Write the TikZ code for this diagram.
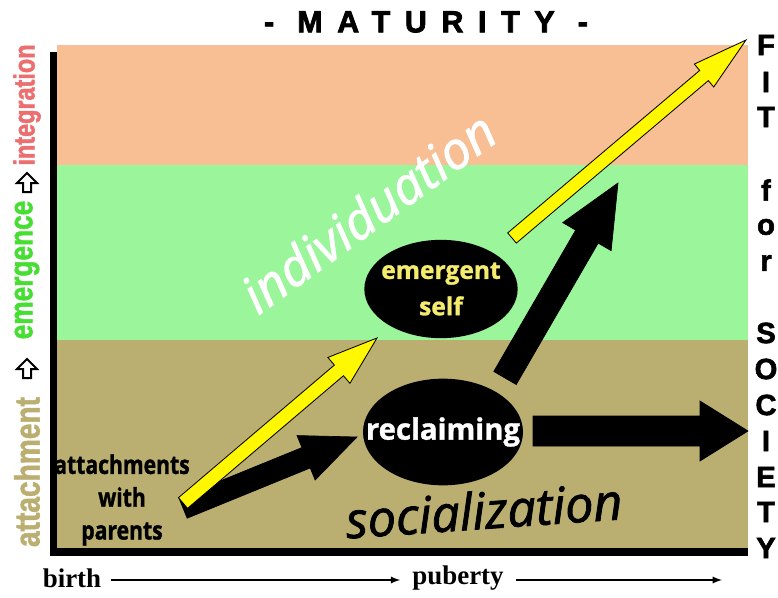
\documentclass[tikz,border=0pt]{standalone}
\usepackage{fontspec}
\setmainfont{Liberation Serif}
\newfontfamily\blobfont[FakeBold=1.2]{Open Sans}
\newfontfamily\wordfont[FakeBold=1.6]{Open Sans}
\newfontfamily\narrowfont[FakeStretch=0.82, FakeBold=1.2]{Open Sans}
\newfontfamily\sidefont[FakeStretch=0.8, FakeBold=1.5]{Liberation Sans}
\newfontfamily\heavyfont[FakeBold=2]{Liberation Sans}
\newfontfamily\spacedfont[LetterSpace=48, FakeBold=2.5]{Liberation Sans}
\usetikzlibrary{shapes.geometric, arrows, calc}
\definecolor{peach}{RGB}{248, 190, 148}
\definecolor{mint}{RGB}{155, 245, 155}
\definecolor{khaki}{RGB}{186, 174, 112}
\definecolor{brightgreen}{RGB}{70, 222, 50}
\definecolor{salmon}{RGB}{236, 110, 110}
\definecolor{arrowyellow}{RGB}{255, 248, 0}
\definecolor{selfyellow}{RGB}{245, 236, 110}

% fat arrow: style, from, to, shaft half width, head half width, head length
\newcommand{\fatarrow}[6]{%
  \coordinate (fa-h) at ($(#3)!#6!(#2)$);
  \filldraw[#1] ($(#2)!#4!90:(#3)$) -- ($(fa-h)!#4!-90:(#2)$)
    -- ($(fa-h)!#5!-90:(#2)$) -- (#3) -- ($(fa-h)!#5!90:(#2)$)
    -- ($(fa-h)!#4!90:(#2)$) -- ($(#2)!#4!-90:(#3)$) -- cycle;
}

\tikzset{
  blob/.style={ellipse, fill=black, inner ysep=0pt, align=center},
  sidelabel/.style={rotate=90, font=\sidefont\bfseries},
  letter/.style={font=\heavyfont\bfseries\fontsize{25}{25}\selectfont},
  yellowarrow/.style={fill=arrowyellow, draw=black, line width=0.25mm},
  blackarrow/.style={fill=black, draw=black, line width=0.2mm},
}

\begin{document}
\begin{tikzpicture}[x=0.3mm, y=-0.3mm]
  \useasboundingbox (0,0) rectangle (778,598);

  % bands
  \fill[black] (50,52) rectangle (748,556);
  \fill[peach] (57,45) rectangle (748,165);
  \fill[mint] (57,165) rectangle (748,340);
  \fill[khaki] (57,340) rectangle (748,548);

  \node (title) at (426,22) {\spacedfont\bfseries\fontsize{26}{26}\selectfont - MATURITY -};

  % left side
  \node[sidelabel, text=khaki, font=\sidefont\bfseries\fontsize{30}{30}\selectfont] (attach) at (27,472) {attachment};
  \node[sidelabel, text=brightgreen, font=\sidefont\bfseries\fontsize{28}{28}\selectfont] (emerge) at (27,270) {emergence};
  \node[sidelabel, text=salmon, font=\sidefont\bfseries\fontsize{25}{25}\selectfont] (integ) at (27,105) {integration};
  \foreach \y in {368,182}
    \draw[fill=white, line width=0.6mm, shift={(27,\y)}] (-4,10) -- (-4,1) -- (-10,1) -- (0,-9) -- (10,1) -- (4,1) -- (4,10) -- cycle;

  % right side
  \foreach \l/\y in {F/45,I/82,T/117,f/190,o/227,r/263,S/333,O/369,C/405,I/441,E/477,T/512,Y/548}
    \node[letter] (fit-\y) at (766,\y) {\l};

  % big words
  \node[text=white, rotate=36, font=\wordfont\itshape\fontsize{44}{44}\selectfont] (indiv) at (368,212) {individuation};
  \node[rotate=4, font=\wordfont\itshape\fontsize{43}{43}\selectfont] (social) at (484,510) {socialization};

  % ellipses
  \node[blob, inner xsep=-1.7mm, minimum width=46mm, minimum height=29.5mm, text=selfyellow,
        font=\blobfont\bfseries\fontsize{21}{31}\selectfont] (self) at (441,289) {emergent\\self};
  \node[blob, inner xsep=-6.3mm, minimum width=48mm, minimum height=32mm, text=white,
        font=\blobfont\bfseries\fontsize{25}{25}\selectfont] (recl) at (443,432) {reclaiming};

  \node[align=center, font=\narrowfont\bfseries\fontsize{22}{28}\selectfont] (parents) at (122,500) {attachments\\with\\parents};

  % arrows
  \coordinate (bs1) at (183,508);
  \coordinate (bt1) at (357,437);
  \coordinate (ys1) at (183,503);
  \coordinate (yt1) at (377,338);
  \coordinate (bs2) at (505,378);
  \coordinate (bt2) at (618,183);
  \coordinate (bs3) at (533,431);
  \coordinate (bt3) at (748,431);
  \coordinate (ys2) at (512,238);
  \coordinate (yt2) at (746,40);
  \fatarrow{blackarrow}{bs1}{bt1}{3.3mm}{7.2mm}{16.5mm}
  \fatarrow{yellowarrow}{ys1}{yt1}{2.1mm}{5.1mm}{15mm}
  \fatarrow{blackarrow}{bs2}{bt2}{3.9mm}{8.4mm}{18.6mm}
  \fatarrow{blackarrow}{bs3}{bt3}{4.5mm}{9mm}{14.4mm}
  \fatarrow{yellowarrow}{ys2}{yt2}{2mm}{4.5mm}{16.5mm}

  % time line
  \node[font=\bfseries\fontsize{23}{23}\selectfont] (birth) at (72,578) {birth};
  \node[font=\bfseries\fontsize{23}{23}\selectfont] (puberty) at (458,578) {puberty};
  \coordinate (later) at (722,580);
  \draw[-latex, line width=0.6mm] (birth.east |- later) ++(6,0) -- ($(puberty.west |- later)+(-8,0)$);
  \draw[-latex, line width=0.6mm] ($(puberty.east |- later)+(8,0)$) -- (later);
\end{tikzpicture}
\end{document}
